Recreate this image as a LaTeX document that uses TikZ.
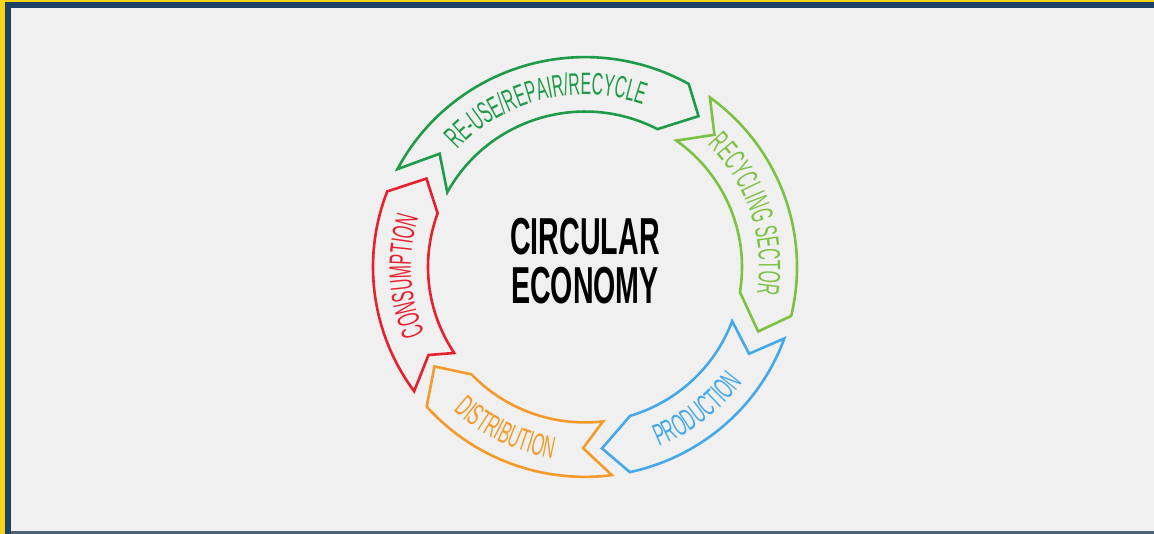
\documentclass[tikz,border=0pt]{standalone}
\usepackage{fontspec}
\setmainfont{Liberation Sans}
\newfontfamily\arcfont{Liberation Sans}[FakeStretch=0.51]
\newfontfamily\titlefont{Liberation Sans}[FakeStretch=0.55]
\usetikzlibrary{decorations.text}
\definecolor{bgc}{HTML}{F0F0F0}
\definecolor{yel}{HTML}{F7D417}
\definecolor{navy}{HTML}{1E4264}
\definecolor{botline}{HTML}{4E6276}
\definecolor{dgreen}{HTML}{1F9A48}
\definecolor{lgreen}{HTML}{7CC242}
\definecolor{sblue}{HTML}{45A8E8}
\definecolor{orng}{HTML}{F39A2B}
\definecolor{sred}{HTML}{E8202E}
\newcommand{\arcsize}{\arcfont\fontsize{31}{31}\selectfont}
\begin{document}
\begin{tikzpicture}[x=1pt,y=1pt,
  ribbon/.style={line width=2.6pt, line join=miter, miter limit=10},
  arclabel/.style={decorate}]
\useasboundingbox (0,0) rectangle (1154,534);
% background and frame
\fill[bgc] (0,0) rectangle (1154,534);
\fill[yel] (0,0) rectangle (5,534);
\fill[yel] (0,531.5) rectangle (1154,534);
\fill[navy] (5,0) rectangle (11,531.5);
\fill[navy] (5,526) rectangle (1154,531.5);
\fill[botline] (11,0) rectangle (1154,2.5);
\begin{scope}[shift={(585,267)}, yscale=0.99]
% green: re-use
\draw[ribbon, dgreen] (152.2:212pt) arc[start angle=152.2, end angle=60.7, radius=212pt]
  -- (53.3:190pt) -- (62.5:157pt) arc[start angle=62.5, end angle=151.3, radius=157pt]
  -- (141.8:185pt) -- cycle;
% light green: recycling sector
\draw[ribbon, lgreen] (53.9:212pt) arc[start angle=53.9, end angle=-13.5, radius=212pt]
  -- (-20.6:185pt) -- (-9.3:157pt) arc[start angle=-9.3, end angle=54.4, radius=157pt]
  -- (45.9:186pt) -- cycle;
% blue: production
\draw[ribbon, sblue] (-19.9:212pt) arc[start angle=-19.9, end angle=-77.8, radius=212pt]
  -- (-84.7:184pt) -- (-73.3:157pt) arc[start angle=-73.3, end angle=-20.4, radius=157pt]
  -- (-28.1:186pt) -- cycle;
% orange: distribution
\draw[ribbon, orng] (-82.7:212pt) arc[start angle=-82.7, end angle=-138.3, radius=212pt]
  -- (-146.3:181pt) -- (-136.3:157pt) arc[start angle=-136.3, end angle=-83.4, radius=157pt]
  -- (-90.6:183pt) -- cycle;
% red: consumption
\draw[ribbon, sred] (216.3:212pt) arc[start angle=216.3, end angle=158.9, radius=212pt]
  -- (150.6:182pt) -- (159.8:157pt) arc[start angle=159.8, end angle=213.6, radius=157pt]
  -- (209.6:180pt) -- cycle;
% labels
\path[arclabel, decoration={text along path, text align=center, text color=dgreen,
  text={|\arcsize|RE-USE/REPAIR/RECYCLE}}]
  (164:174pt) arc[start angle=164, end angle=44, radius=174pt];
\path[arclabel, decoration={text along path, text align=center, text color=lgreen,
  text={|\arcsize|RECYCLING SECTOR}}]
  (78:174pt) arc[start angle=78, end angle=-42, radius=174pt];
\path[arclabel, decoration={text along path, text align=center, text color=sblue,
  text={|\arcsize|PRODUCTION}}]
  (-112:196pt) arc[start angle=-112, end angle=8, radius=196pt];
\path[arclabel, decoration={text along path, text align=center, text color=orng,
  text={|\arcsize|DISTRIBUTION}}]
  (-176:196pt) arc[start angle=-176, end angle=-56, radius=196pt];
\path[arclabel, decoration={text along path, text align=center, text color=sred,
  text={|\arcsize|CONSUMPTION}}]
  (243:174pt) arc[start angle=243, end angle=123, radius=174pt];
\end{scope}
\node[font=\titlefont\bfseries\fontsize{52}{49}\selectfont, align=center, inner sep=0pt, text=black]
  (title) at (585,272.5) {CIRCULAR\\ECONOMY};
\end{tikzpicture}
\end{document}
